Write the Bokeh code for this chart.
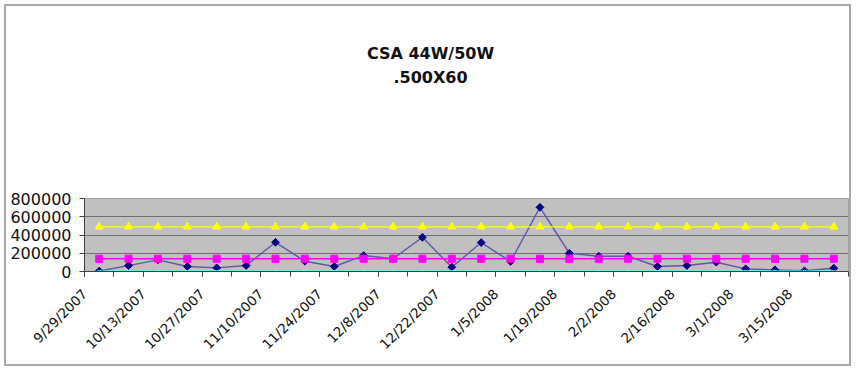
import math
from bokeh.plotting import figure
from bokeh.models import FixedTicker, PrintfTickFormatter, Range1d, Label
from bokeh.embed import file_html
from bokeh.resources import INLINE

title_lines = ["CSA 44W/50W", ".500X60"]
dates = ["9/29/2007", "10/6/2007", "10/13/2007", "10/20/2007", "10/27/2007", "11/3/2007",
         "11/10/2007", "11/17/2007", "11/24/2007", "12/1/2007", "12/8/2007", "12/15/2007",
         "12/22/2007", "12/29/2007", "1/5/2008", "1/12/2008", "1/19/2008", "1/26/2008",
         "2/2/2008", "2/9/2008", "2/16/2008", "2/23/2008", "3/1/2008", "3/8/2008",
         "3/15/2008", "3/22/2008"]
actual = [5000, 65000, 128000, 55000, 40000, 65000, 320000, 113000, 55000, 175000,
          139000, 375000, 47000, 317000, 109000, 703000, 200000, 167000, 167000, 55000,
          65000, 102000, 29000, 18000, 8000, 36000]
average = [140000] * 26
upper = [490000] * 26
lower = [0] * 26
y_ticks = [0, 200000, 400000, 600000, 800000]

x = list(range(len(dates)))

p = figure(width=847, height=362, output_backend="svg", toolbar_location=None, title=None,
           x_range=Range1d(-0.5, len(dates) - 0.5), y_range=Range1d(0, 800000),
           min_border_left=78, min_border_right=5, min_border_top=192, min_border_bottom=97)

p.background_fill_color = "#c0c0c0"
p.border_fill_color = "white"
p.outline_line_color = "#a0a0a0"
p.styles = {"margin-left": "4px", "margin-top": "4px", "border": "2px solid #a8a8a8"}

# title (two centred lines) placed in panels above the plot area
for txt, ty in zip(title_lines, [145, 102.5]):
    p.add_layout(Label(x=346, y=ty, x_units="screen", y_units="screen", text=txt,
                       text_align="center", text_baseline="middle",
                       text_font="DejaVu Sans", text_font_size="16px",
                       text_font_style="bold", text_color="#111111"), "above")

# actual series
p.line(x, actual, line_color="#5a5aa8", line_width=1.4)
p.scatter(x, actual, marker="square", angle=math.pi / 4, size=5.5,
          fill_color="#000080", line_color="#000080")
# average
p.line(x, average, line_color="#ff00ff", line_width=1.5)
p.scatter(x, average, marker="square", size=7, fill_color="#ff00ff", line_color="#ff00ff")
# upper
p.line(x, upper, line_color="#ffff00", line_width=1.2)
p.scatter(x, upper, marker="triangle", size=8, fill_color="#ffff00", line_color="#ffff00")
# lower
p.line(x, lower, line_color="#40ffff", line_width=2)
p.scatter(x, lower, marker="x", size=5, line_color="#a0ffff", line_width=1)

# axes
p.xgrid.visible = False
p.ygrid.grid_line_color = "#707070"
p.ygrid.grid_line_width = 1.2

# date labels sit at the left boundary of every second category
label_pos = [i - 0.5 for i in x[::2]]
p.xaxis.ticker = FixedTicker(ticks=label_pos, minor_ticks=[i - 0.5 for i in range(len(dates) + 1)])
p.xaxis.major_label_overrides = {pos: dates[i] for pos, i in zip(label_pos, x[::2])}
p.xaxis.major_label_orientation = math.pi / 4
p.xaxis.major_tick_line_color = "#404040"
p.xaxis.major_tick_in = 0
p.xaxis.major_tick_out = 5
p.xaxis.minor_tick_line_color = "#404040"
p.xaxis.minor_tick_in = 0
p.xaxis.minor_tick_out = 5
p.xaxis.axis_line_color = "#404040"
p.xaxis.major_label_text_font = "DejaVu Sans"
p.xaxis.major_label_text_font_size = "13.5px"
p.xaxis.major_label_text_color = "#111111"
p.xaxis.major_label_standoff = 15

p.yaxis.ticker = FixedTicker(ticks=y_ticks, minor_ticks=[])
p.yaxis.formatter = PrintfTickFormatter(format="%d")
p.yaxis.major_tick_in = 0
p.yaxis.major_tick_out = 5
p.yaxis.major_tick_line_color = "#404040"
p.yaxis.axis_line_color = "#404040"
p.yaxis.major_label_text_font = "DejaVu Sans"
p.yaxis.major_label_text_font_size = "16px"
p.yaxis.major_label_text_color = "#111111"
p.yaxis.major_label_standoff = 8

open("out.html", "w").write(file_html(p, INLINE))
